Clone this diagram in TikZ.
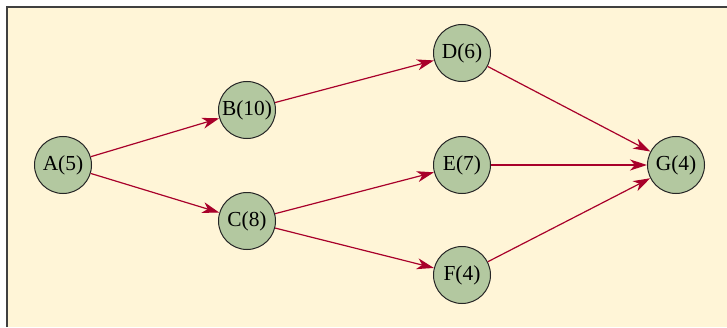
\documentclass[tikz,border=0pt]{standalone}
\usepackage{fontspec}
\setmainfont{Liberation Serif}
\usetikzlibrary{arrows.meta}
\definecolor{paper}{RGB}{255,245,215}
\definecolor{sage}{RGB}{179,200,160}
\definecolor{crimson}{RGB}{168,0,42}
\begin{document}
\begin{tikzpicture}[x=0.5pt, y=0.5pt, every node/.style={font=\fontsize{10.7}{13}\selectfont},
  task/.style={draw=black!85,line width=0.5pt,circle,fill=sage,minimum size=28.5pt,inner sep=0pt},
  dep/.style={-{Stealth[length=8.5pt,width=5.5pt,inset=2.5pt]},line width=0.6pt,crimson}]
\useasboundingbox (0,0) rectangle (727,327);
\fill[paper] (7,0) rectangle (727,320);
\draw[black!75,line width=1pt] (7,0) -- (7,320) -- (727,320);
% activities
\node[task] (a) at (63,162) {A(5)};
\node[task] (b) at (247,217) {B(10)};
\node[task] (c) at (247,106) {C(8)};
\node[task] (d) at (462,274) {D(6)};
\node[task] (e) at (462,162) {E(7)};
\node[task] (f) at (462,52) {F(4)};
\node[task] (g) at (676,162) {G(4)};
% precedences
\draw[dep] (a) -- (b);
\draw[dep] (a) -- (c);
\draw[dep] (b) -- (d);
\draw[dep] (c) -- (e);
\draw[dep] (c) -- (f);
\draw[dep] (d) -- (g);
\draw[dep] (e) -- (g);
\draw[dep] (f) -- (g);
\end{tikzpicture}
\end{document}
